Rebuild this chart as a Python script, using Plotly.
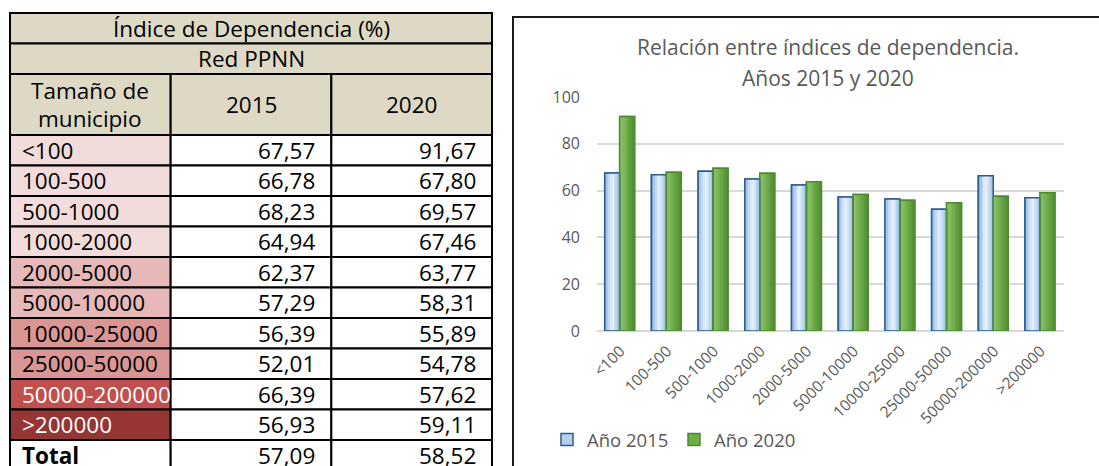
import plotly.graph_objects as go

# ---------------- data ----------------
categories = ["<100", "100-500", "500-1000", "1000-2000", "2000-5000", "5000-10000",
              "10000-25000", "25000-50000", "50000-200000", ">200000"]
idx_2015 = [67.57, 66.78, 68.23, 64.94, 62.37, 57.29, 56.39, 52.01, 66.39, 56.93]
idx_2020 = [91.67, 67.80, 69.57, 67.46, 63.77, 58.31, 55.89, 54.78, 57.62, 59.11]
total_2015 = 57.09
total_2020 = 58.52
table_title = "Índice de Dependencia (%)"
table_subtitle = "Red PPNN"
col_headers = ["Tamaño de<br>municipio", "2015", "2020"]
series_names = ["Año 2015", "Año 2020"]
chart_title = ["Relación entre índices de dependencia.", "Años 2015 y 2020"]
y_ticks = [0, 20, 40, 60, 80, 100]

# ---------------- style ----------------
FONT = "Open Sans"
W, H = 1099, 466
TAN = "#DDD9C4"
first_col_fill = ["#F2DCDB", "#F2DCDB", "#F2DCDB", "#F2DCDB", "#E6B8B7", "#E6B8B7",
                  "#DA9694", "#DA9694", "#C0504D", "#963634"]
first_col_font = ["#000000"] * 8 + ["#FFFFFF", "#FFFFFF"]
GREY = "#595959"
TS = 22.5  # table font size


def fmt(v):
    return f"{v:.2f}".replace(".", ",")


fig = go.Figure()

# ---------------- table (own axes: x2 in column units, y2 in row units) ----------------
px_left, col_px = 10, 160.67
row_top, row_px = 13, 30.5
x2_range = [(0 - px_left) / col_px, (W - px_left) / col_px]
y2_range = [(H - row_top) / row_px, (0 - row_top) / row_px]

shapes = []
annotations = []
BORDER = dict(color="#000000", width=2)


def cell(x0, x1, y0, y1, fill):
    shapes.append(dict(type="rect", xref="x2", yref="y2", x0=x0, x1=x1, y0=y0, y1=y1,
                       fillcolor=fill, line=BORDER, layer="above"))


def text(x, y, s, anchor="center", color="#000000", size=TS, bold=False):
    annotations.append(dict(xref="x2", yref="y2", x=x, y=y, text=(f"<b>{s}</b>" if bold else s),
                            showarrow=False, xanchor=anchor, yanchor="middle",
                            font=dict(family=FONT, size=size, color=color)))


ncol = 3
cell(0, ncol, 0, 1, TAN)
text(ncol / 2, 0.5, table_title)
cell(0, ncol, 1, 2, TAN)
text(ncol / 2, 1.5, table_subtitle)
for j, h in enumerate(col_headers):
    cell(j, j + 1, 2, 4, TAN)
    lines = h.split("<br>")
    if len(lines) == 2:
        text(j + 0.5, 2.55, lines[0])
        text(j + 0.5, 3.45, lines[1])
    else:
        text(j + 0.5, 3.0, h)

pad_l = 10 / col_px
pad_r = 14 / col_px
for i, cat in enumerate(categories):
    r = 4 + i
    cell(0, 1, r, r + 1, first_col_fill[i])
    cell(1, 2, r, r + 1, "#FFFFFF")
    cell(2, 3, r, r + 1, "#FFFFFF")
    text(0 + pad_l, r + 0.5, cat, anchor="left", color=first_col_font[i])
    text(2 - pad_r, r + 0.5, fmt(idx_2015[i]), anchor="right")
    text(3 - pad_r, r + 0.5, fmt(idx_2020[i]), anchor="right")
r = 4 + len(categories)
cell(0, 1, r, r + 1.2, "#FFFFFF")
cell(1, 2, r, r + 1.2, "#FFFFFF")
cell(2, 3, r, r + 1.2, "#FFFFFF")
text(0 + pad_l, r + 0.5, "Total", anchor="left", bold=True)
text(2 - pad_r, r + 0.5, fmt(total_2015), anchor="right")
text(3 - pad_r, r + 0.5, fmt(total_2020), anchor="right")

fig.add_trace(go.Scatter(x=[], y=[], xaxis="x2", yaxis="y2", showlegend=False, hoverinfo="skip"))

# ---------------- bar chart ----------------
bar_w = 0.32
series = [
    dict(name=series_names[0], vals=idx_2015, offset=-0.335, base="#B4D0EC", line="#2F5B8C",
         strips=["#8FB8E2", "#A8C9EA", "#C2DBF1", "#D9E8F6", "#E4EFF9", "#D3E4F4", "#BCD6EF", "#A6C8E9"]),
    dict(name=series_names[1], vals=idx_2020, offset=-0.015, base="#70AD47", line="#4E8A2E",
         strips=["#8DC56B", "#85BE62", "#7CB759", "#74AF51", "#6BA849", "#64A142", "#5C993C", "#559136"]),
]
for s in series:
    fig.add_trace(go.Bar(x=categories, y=s["vals"], name=s["name"], offset=s["offset"], width=bar_w,
                         marker=dict(color=s["base"], line=dict(color=s["line"], width=1.5)),
                         showlegend=True, hoverinfo="skip"))
for s in series:
    n = len(s["strips"])
    sw = bar_w / n
    for k, c in enumerate(s["strips"]):
        fig.add_trace(go.Bar(x=categories, y=s["vals"], offset=s["offset"] + k * sw, width=sw * 1.05,
                             marker=dict(color=c, line=dict(width=0)), showlegend=False,
                             hoverinfo="skip"))
for s in series:
    fig.add_trace(go.Bar(x=categories, y=s["vals"], offset=s["offset"], width=bar_w,
                         marker=dict(color="rgba(0,0,0,0)", line=dict(color=s["line"], width=1.5)),
                         showlegend=False, hoverinfo="skip"))

shapes.append(dict(type="rect", xref="paper", yref="paper", x0=513 / W, x1=1.05,
                   y0=-0.05, y1=(H - 17) / H, line=dict(color="#1A1A1A", width=2),
                   fillcolor="rgba(0,0,0,0)", layer="below"))

annotations.append(dict(xref="paper", yref="paper", x=828 / W, y=(H - 47) / H, text=chart_title[0],
                        showarrow=False, xanchor="center", yanchor="middle",
                        font=dict(family=FONT, size=21, color=GREY)))
annotations.append(dict(xref="paper", yref="paper", x=828 / W, y=(H - 78) / H, text=chart_title[1],
                        showarrow=False, xanchor="center", yanchor="middle",
                        font=dict(family=FONT, size=21, color=GREY)))

fig.update_layout(
    width=W, height=H,
    margin=dict(l=0, r=0, t=0, b=0, autoexpand=False),
    paper_bgcolor="white", plot_bgcolor="rgba(0,0,0,0)",
    barmode="overlay",
    font=dict(family=FONT, color=GREY),
    xaxis=dict(domain=[597 / W, 1064 / W], type="category", tickangle=-45,
               tickfont=dict(family=FONT, size=15.5, color=GREY), showgrid=False,
               showline=False, ticks="", anchor="y", automargin=False, ticklabelstandoff=7),
    yaxis=dict(domain=[(H - 331) / H, (H - 97) / H], range=[0, 100], tickvals=y_ticks,
               tickfont=dict(family=FONT, size=16, color=GREY), showgrid=True,
               gridcolor="#D9D9D9", gridwidth=1.5, zeroline=True, zerolinecolor="#D9D9D9",
               zerolinewidth=2, showline=False, ticks="", ticklabelstandoff=16, anchor="x",
               automargin=False),
    xaxis2=dict(domain=[0, 1], range=x2_range, visible=False, anchor="y2", fixedrange=True),
    yaxis2=dict(domain=[0, 1], range=y2_range, visible=False, anchor="x2", fixedrange=True),
    legend=dict(orientation="h", x=547 / W, y=(H - 440) / H, xanchor="left", yanchor="middle",
                font=dict(family=FONT, size=18.5, color=GREY), bgcolor="rgba(0,0,0,0)",
                itemwidth=30, traceorder="normal", entrywidth=82, entrywidthmode="pixels"),
    shapes=shapes,
    annotations=annotations,
    showlegend=True,
)

fig.write_html("out.html", config={"displayModeBar": False},
               post_script="document.body.style.margin='0';document.body.style.overflow='hidden';")
